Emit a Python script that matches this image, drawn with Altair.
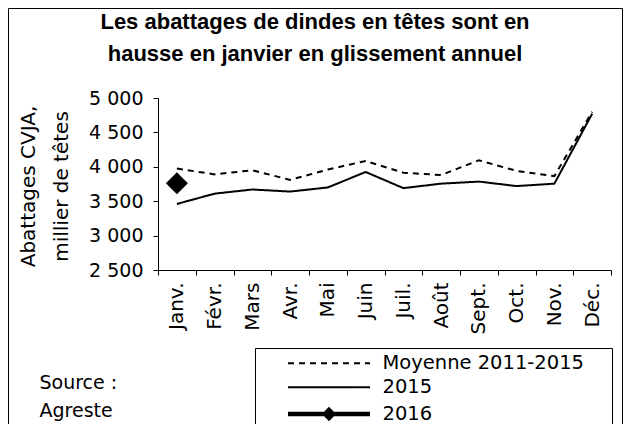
import altair as alt
import pandas as pd

# ---- data ----
mois = ["Janv.", "Févr.", "Mars", "Avr.", "Mai", "Juin",
        "Juil.", "Août", "Sept.", "Oct.", "Nov.", "Déc."]
moyenne_2011_2015 = [3975, 3890, 3950, 3810, 3960, 4085, 3915, 3880, 4095, 3940, 3865, 4800]
annee_2015 = [3460, 3610, 3670, 3640, 3700, 3925, 3690, 3755, 3785, 3720, 3755, 4770]
annee_2016 = [3760]
series = ["Moyenne 2011-2015", "2015", "2016"]
y_ticks = [2500, 3000, 3500, 4000, 4500, 5000]
titre = ["Les abattages de dindes en têtes sont en", "hausse en janvier en glissement annuel"]
titre_y = ["Abattages CVJA,", "millier de têtes"]
source = ["Source :", "Agreste"]

rows = []
for m, v in zip(mois, moyenne_2011_2015):
    rows.append({"mois": m, "valeur": v, "serie": series[0]})
for m, v in zip(mois, annee_2015):
    rows.append({"mois": m, "valeur": v, "serie": series[1]})
for m, v in zip(mois, annee_2016):
    rows.append({"mois": m, "valeur": v, "serie": series[2]})
df = pd.DataFrame(rows)

FONT = "DejaVu Sans"

x_enc = alt.X(
    "mois:N", sort=mois,
    scale=alt.Scale(type="band", domain=mois, paddingInner=0, paddingOuter=0),
    axis=alt.Axis(
        tickBand="extent", labelAngle=270, labelFontSize=20, labelPadding=7,
        tickSize=5, labelFont=FONT,
        title=source, titleX=-119, titleY=118, titleAlign="left", titleAngle=0,
        titleBaseline="alphabetic", titleFontWeight="normal", titleFontSize=19,
        titleLineHeight=28, titleFont=FONT,
    ),
)
y_enc = alt.Y(
    "valeur:Q",
    scale=alt.Scale(domain=[2500, 5000], nice=False, zero=False),
    axis=alt.Axis(
        values=y_ticks, grid=False, tickSize=5, labelPadding=10, labelFontSize=19,
        labelFont=FONT,
        labelExpr="replace(format(datum.value, ','), ',', ' ')",
        title=titre_y, titleX=-123.7, titleY=88, titleAngle=270, titleAlign="center",
        titleBaseline="alphabetic", titleFontSize=20, titleLineHeight=33,
        titleFontWeight="normal", titleFont=FONT,
    ),
)

dash_scale = alt.Scale(domain=series, range=[[6, 5], [1, 0], [1, 0]])
width_scale = alt.Scale(type="ordinal", domain=series, range=[2, 2, 4.5])
line_path = "M-5.125,0H5.125"
diamond_path = "M-5.125,0H5.125M-0.5,0L0,-0.5L0.5,0L0,0.5Z"
shape_scale = alt.Scale(domain=series, range=[line_path, line_path, diamond_path])

leg = alt.Legend(
    orient="none", legendX=160.5, legendY=255.5, title=None, padding=0,
    labelOffset=43, labelFontSize=19.5, labelFont=FONT, labelColor="black",
    symbolSize=256, rowPadding=3, direction="vertical", labelLimit=400,
)

legend_layer = alt.Chart(df).transform_filter("false").mark_point(
    filled=True, color="black", stroke="black", opacity=1
).encode(
    x=x_enc, y=y_enc,
    shape=alt.Shape("serie:N", scale=shape_scale, legend=leg),
    strokeDash=alt.StrokeDash("serie:N", scale=dash_scale, legend=leg),
    strokeWidth=alt.StrokeWidth("serie:N", scale=width_scale, legend=leg),
)

lines = alt.Chart(df).transform_filter("datum.serie != '2016'").mark_line(
    color="black", strokeCap="butt"
).encode(
    x=x_enc, y=y_enc,
    strokeDash=alt.StrokeDash("serie:N", scale=dash_scale, legend=leg),
    strokeWidth=alt.StrokeWidth("serie:N", scale=width_scale, legend=leg),
)

diamond = alt.Chart(df).transform_filter("datum.serie == '2016'").mark_point(
    shape="diamond", filled=True, size=484, color="black", opacity=1
).encode(x=x_enc, y=y_enc)

deco = pd.DataFrame({"k": [0]})
border = alt.Chart(deco).mark_rect(
    fill="white", fillOpacity=0, stroke="black", strokeWidth=1
).encode(x=alt.value(-149.5), x2=alt.value(464.5), y=alt.value(-89.5), y2=alt.value(342))
legend_box = alt.Chart(deco).mark_rect(
    fill="white", fillOpacity=0, stroke="black", strokeWidth=1
).encode(x=alt.value(97.5), x2=alt.value(454.5), y=alt.value(250.5), y2=alt.value(342))

chart = alt.layer(border, legend_box, legend_layer, lines, diamond).properties(
    width=453, height=172,
    autosize=alt.AutoSizeParams(type="none"),
    padding={"left": 150, "top": 90, "right": 12, "bottom": 154},
    title=alt.TitleParams(
        text=titre, font="Liberation Sans", fontSize=22, fontWeight="bold",
        color="black", anchor="middle", frame="group", baseline="top",
        offset=-58, dx=-69.5, lineHeight=32,
    ),
).configure_view(stroke=None).configure_axis(
    domainColor="black", tickColor="black", labelColor="black", titleColor="black",
    domainWidth=1, tickWidth=1,
)

chart.save("out.html", embed_options={"renderer": "svg", "actions": False})
